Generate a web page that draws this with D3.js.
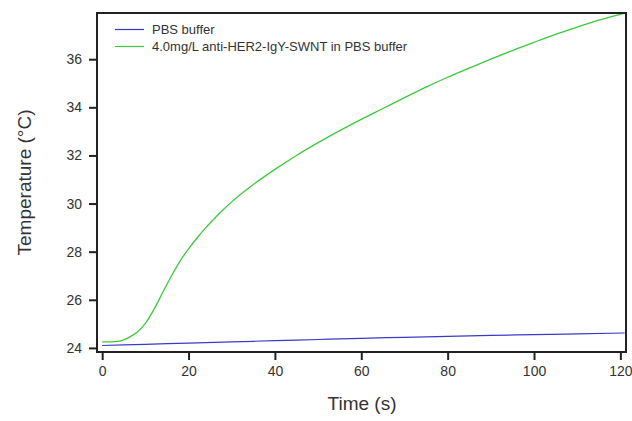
<!DOCTYPE html>
<html>
<head>
<meta charset="utf-8">
<script src="https://cdn.jsdelivr.net/npm/d3@7"></script>
<style>
  body { margin: 0; background: #fff; }
  text { font-family: "Liberation Sans", Arial, sans-serif; fill: #333; }
</style>
</head>
<body>
<div id="chart"></div>
<script>
// data
const timeGreen = [0, 2, 4, 6, 8, 10, 12, 14, 16, 18, 20, 22, 24, 26, 28, 30, 35, 40, 45, 50, 55, 60, 65, 70, 75, 80, 85, 90, 95, 100, 105, 110, 115, 121]
const tempGreen = [24.25, 24.25, 24.28, 24.42, 24.64, 25.02, 25.6, 26.3, 26.98, 27.6, 28.12, 28.58, 29.0, 29.38, 29.74, 30.07, 30.79, 31.42, 32.0, 32.53, 33.03, 33.5, 33.95, 34.4, 34.84, 35.25, 35.63, 36.0, 36.36, 36.7, 37.03, 37.33, 37.62, 37.92]
const timeBlue = [0, 10, 20, 30, 40, 50, 60, 70, 80, 90, 100, 110, 121]
const tempBlue = [24.1, 24.15, 24.2, 24.25, 24.3, 24.35, 24.4, 24.44, 24.48, 24.52, 24.55, 24.58, 24.62]
const xTicks = [0, 20, 40, 60, 80, 100, 120]
const yTicks = [24, 26, 28, 30, 32, 34, 36]
const seriesNames = ["PBS buffer", "4.0mg/L anti-HER2-IgY-SWNT in PBS buffer"]
const seriesColors = ["#3b3bc8", "#3ec83e"]

const margin = {top: 13, right: 6, bottom: 69, left: 97}
const width = 632 - margin.left - margin.right
const height = 421 - margin.top - margin.bottom

const svg = d3.select("#chart").append("svg")
        .attr("width", 632)
        .attr("height", 421)
    .append("g")
        .attr("transform", `translate(${margin.left},${margin.top})`)

const xScale = d3.scaleLinear().domain([-1.2, 121.3]).range([0, width])
const yScale = d3.scaleLinear().domain([23.83, 37.92]).range([height, 0])

const xAx = d3.axisBottom(xScale).tickValues(xTicks).tickSize(8).tickPadding(6)
const yAx = d3.axisLeft(yScale).tickValues(yTicks).tickSize(8).tickPadding(7)

const xGroup = svg.append("g")
        .attr("transform", `translate(0,${height})`)
        .call(xAx)
const yGroup = svg.append("g").call(yAx)

for (const g of [xGroup, yGroup]) {
    g.select(".domain").remove()
    g.selectAll(".tick line").attr("stroke", "#222").attr("stroke-width", 2)
    g.selectAll(".tick text")
        .style("font-family", "Liberation Sans, Arial, sans-serif")
        .style("font-size", "14px")
        .attr("fill", "#333")
}

// lines
const line = d3.line()
    .curve(d3.curveMonotoneX)
    .x(d => xScale(d[0]))
    .y(d => yScale(d[1]))

svg.append("path")
    .datum(d3.zip(timeBlue, tempBlue))
    .attr("fill", "none")
    .attr("stroke", seriesColors[0])
    .attr("stroke-width", 1.2)
    .attr("d", line)

svg.append("path")
    .datum(d3.zip(timeGreen, tempGreen))
    .attr("fill", "none")
    .attr("stroke", seriesColors[1])
    .attr("stroke-width", 1.3)
    .attr("d", line)

// frame
svg.append("rect")
    .attr("x", 0).attr("y", 0)
    .attr("width", width).attr("height", height)
    .attr("fill", "none")
    .attr("stroke", "#222")
    .attr("stroke-width", 2)

// legend
const legend = svg.selectAll(".legend")
    .data(seriesNames)
    .join("g")
        .attr("class", "legend")
        .attr("transform", (d, i) => `translate(18,${16.5 + i * 17})`)
legend.append("line")
    .attr("x1", 0).attr("x2", 29)
    .attr("stroke", (d, i) => seriesColors[i])
    .attr("stroke-width", 1.2)
legend.append("text")
    .attr("x", 37)
    .attr("dy", "0.35em")
    .style("font-size", "13px")
    .text(d => d)

// axis titles
svg.append("text")
    .attr("transform", `translate(-66,${height / 2}) rotate(-90)`)
    .attr("text-anchor", "middle")
    .style("font-size", "19px")
    .text("Temperature (°C)")

svg.append("text")
    .attr("x", 362 - margin.left)
    .attr("y", 410 - margin.top)
    .attr("text-anchor", "middle")
    .style("font-size", "19px")
    .text("Time (s)")
</script>
</body>
</html>
